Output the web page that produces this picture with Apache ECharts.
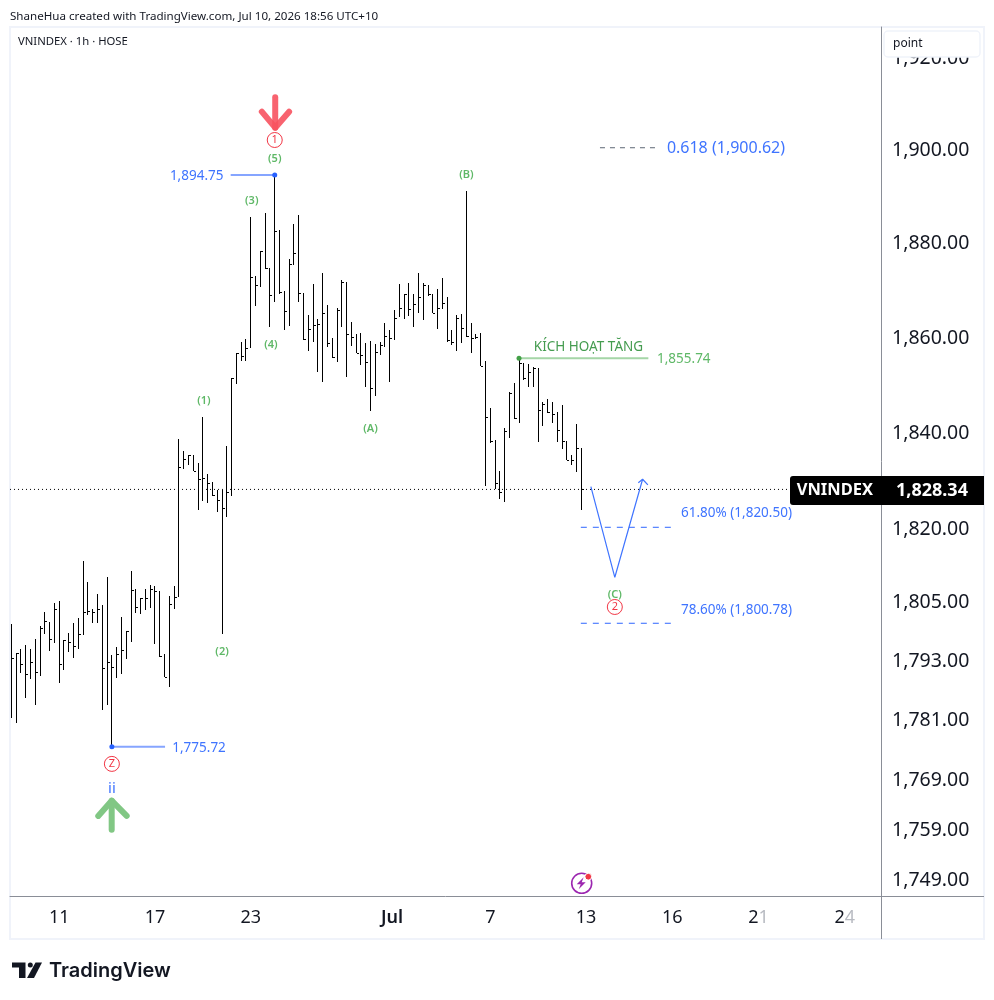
<!DOCTYPE html>
<html>
<head>
<meta charset="utf-8">
<title>VNINDEX 1h</title>
<style>html,body{margin:0;padding:0;background:#fff}#chart{width:994px;height:1000px}</style>
<script src="https://cdn.jsdelivr.net/npm/echarts@6/dist/echarts.min.js"></script>
</head>
<body>
<div id="chart"></div>
<script>
// Hourly HLC bars, one row per session hour: high, low, close
const highs = [1800.65,1794.68,1795.55,1796.37,1795.55,1797.59,1800.18,1803.09,1801.12,1804.87,1805.34,1797.39,1798.81,1800.85,1801.87,1813.51,1809.19,1803.64,1806.71,1804.46,1810.22,1794.33,1795.9,1802.01,1799.16,1811.45,1807.74,1805.89,1807.74,1808.57,1808.36,1807.39,1794.47,1806.3,1808.36,1838.85,1836.35,1835.52,1835.52,1833.85,1843.44,1831.56,1829.89,1828.22,1828.22,1837.39,1851.62,1856.89,1859.21,1859.84,1885.76,1873.18,1878.51,1886.61,1874.88,1894.75,1882.98,1869.98,1876.8,1884.26,1886.18,1869.55,1864.9,1871.44,1864.05,1873.83,1867.0,1860.05,1866.37,1872.32,1871.9,1863.42,1860.89,1861.1,1858.99,1859.35,1858.79,1859.21,1863.21,1861.74,1865.95,1871.44,1869.34,1871.69,1869.34,1873.76,1871.69,1871.27,1869.34,1870.41,1872.75,1868.69,1861.74,1864.9,1865.11,1891.3,1863.21,1860.89,1861.1,1855.2,1845.31,1838.64,1832.18,1841.15,1848.67,1850.56,1855.74,1854.78,1854.57,1853.94,1853.73,1846.56,1847.19,1846.56,1844.48,1845.94,1838.44,1835.52,1841.98,1836.98];
const lows = [1781.6,1780.59,1790.72,1785.64,1789.5,1784.21,1790.05,1798.55,1795.21,1796.72,1788.69,1791.27,1795.0,1793.78,1795.49,1798.47,1802.54,1800.91,1800.91,1783.21,1784.21,1775.72,1789.71,1790.46,1793.46,1797.04,1802.95,1802.75,1803.56,1803.97,1796.63,1793.98,1789.8,1787.87,1803.77,1806.09,1832.6,1833.43,1832.18,1824.08,1825.93,1825.52,1826.97,1823.67,1798.61,1822.64,1826.97,1850.35,1855.2,1855.2,1857.94,1866.79,1870.84,1874.67,1862.37,1867.64,1869.34,1861.74,1862.58,1875.51,1867.64,1859.63,1857.31,1859.21,1852.88,1850.77,1858.15,1855.84,1854.99,1862.37,1851.83,1858.36,1856.89,1854.36,1849.72,1844.69,1847.82,1856.47,1858.15,1850.77,1859.63,1864.48,1864.05,1864.69,1862.37,1865.32,1863.84,1868.91,1865.32,1861.95,1866.16,1859.21,1858.57,1857.31,1858.99,1860.26,1856.89,1859.84,1854.15,1829.06,1838.02,1828.43,1826.35,1825.73,1839.06,1843.02,1842.19,1851.2,1849.72,1849.72,1838.23,1841.56,1844.27,1842.19,1838.23,1836.77,1834.48,1833.43,1831.97,1824.08];
const closes = [1793.66,1794.68,1792.44,1790.4,1792.84,1790.81,1799.77,1801.2,1797.53,1803.64,1792.44,1797.33,1796.92,1796.1,1798.55,1803.03,1803.3,1803.03,1803.64,1791.62,1792.84,1791.82,1794.47,1795.29,1799.16,1807.54,1804.05,1805.89,1805.89,1807.74,1807.33,1794.07,1789.91,1804.66,1806.09,1833.02,1834.69,1835.52,1832.18,1830.52,1830.72,1829.68,1827.18,1826.14,1824.49,1827.81,1851.62,1856.89,1856.26,1857.94,1872.97,1871.27,1878.51,1874.88,1869.13,1882.77,1869.77,1865.74,1875.73,1878.08,1869.55,1859.84,1861.95,1862.79,1863.0,1865.32,1858.99,1856.05,1865.95,1871.9,1860.89,1860.26,1856.89,1856.47,1854.99,1849.51,1857.1,1858.57,1860.47,1860.05,1864.27,1866.37,1869.34,1866.16,1867.22,1868.69,1871.27,1869.34,1865.32,1866.37,1867.43,1859.63,1859.21,1864.27,1862.16,1860.47,1860.05,1860.26,1854.15,1843.44,1838.44,1829.68,1827.81,1840.52,1848.46,1843.23,1854.78,1851.62,1852.88,1853.73,1844.9,1846.15,1844.48,1844.06,1840.73,1838.44,1834.48,1834.48,1836.98,1828.34];

const lastPrice = 1828.34;
const priceTicks = [1920,1900,1880,1860,1840,1820,1805,1793,1781,1769,1759,1749];
const timeTickIndex = [10,30,50,79.5,100,120,138,156,174];
const timeTickText = ['11','17','23','{m|Jul}','7','13','16','2{f|1}','2{f|4}'];

const swingHigh = 1894.75, swingLow = 1775.72, triggerLevel = 1855.74;
const fibExt = 1900.62, fib618 = 1820.50, fib786 = 1800.78;

// Elliott wave counts beside the bars
const waveText = ['(1)','(2)','(3)','(4)','(5)','(A)','(B)','(C)'];
const waveIndex = [40.2,44,50.2,54.2,55,75,95,126];
const wavePrice = [1846.98,1795.15,1889.38,1858.8,1898.38,1841.14,1894.96,1806.9];

// Circled primary degree marks
const circleText = ['1','Z','2'];
const circleIndex = [55,21,126];
const circlePrice = [1902.29,1772.27,1804.11];

// Projected path for wave (C) and the rebound after it
const pathIndex = [121,126,131.8];
const pathPrice = [1828.91,1810.2,1830.45];
const headIndex = [130.9,131.8,132.9];
const headPrice = [1829.74,1830.45,1829.27];

const downArrowShaftIndex = [55.1,55.1], downArrowShaftPrice = [1911.53,1904.95];
const downArrowHeadIndex = [52.3,55.1,58.0], downArrowHeadPrice = [1908.41,1904.95,1908.41];
const upArrowShaftIndex = [20.96,20.96], upArrowShaftPrice = [1759.05,1764.88];
const upArrowHeadIndex = [18.16,20.96,24.09], upArrowHeadPrice = [1761.84,1764.88,1761.84];

const xMin = -0.27, xMax = 181.57;
const BLUE = '#3f74ff', GREEN = '#5fb867', RED = '#f23645';
const UI_FONT = '"Noto Sans", sans-serif';

const barRows = highs.map((h, i) => [i, h, lows[i], closes[i]]);

function polyline(name, xs, ys, lineStyle, z) {
  return {
    name, type: 'line', silent: true, symbol: 'none', animation: false, z: z || 4,
    data: xs.map((x, i) => [x, ys[i]]), lineStyle
  };
}
function textMark(name, x, y, text, font) {
  return {
    name, type: 'scatter', silent: true, symbolSize: 0, animation: false, z: 6,
    itemStyle: {opacity: 1},
    data: [[x, y]],
    label: Object.assign({show: true, position: 'inside', offset: [0, 1], formatter: text, fontFamily: UI_FONT, textBorderWidth: 0}, font)
  };
}
function dot(name, x, y, color) {
  return {name, type: 'scatter', silent: true, symbolSize: 5, animation: false, z: 7,
    data: [[x, y]], itemStyle: {color, opacity: 1}};
}

const series = [
  {
    name: 'VNINDEX', type: 'custom', animation: false, silent: true, z: 3,
    encode: {x: 0, y: [1, 2, 3]},
    data: barRows,
    renderItem(params, api) {
      const x = Math.floor(api.coord([api.value(0), api.value(1)])[0]);
      const top = Math.round(api.coord([api.value(0), api.value(1)])[1]);
      const bottom = Math.round(api.coord([api.value(0), api.value(2)])[1]);
      const close = Math.round(api.coord([api.value(0), api.value(3)])[1]);
      const style = {fill: '#000'};
      return {type: 'group', children: [
        {type: 'rect', shape: {x, y: top, width: 1, height: Math.max(bottom - top, 1)}, style},
        {type: 'rect', shape: {x: x + 1, y: close, width: 2, height: 1}, style}
      ]};
    }
  },
  polyline('last', [xMin, xMax], [lastPrice, lastPrice], {color: '#000', width: 1, type: [1, 3]}, 2),

  polyline('swing high', [45.8, 55], [swingHigh, swingHigh], {color: '#86a5ff', width: 2}),
  polyline('swing low', [21, 32.1], [swingLow, swingLow], {color: '#86a5ff', width: 2}),
  polyline('trigger', [106, 133], [triggerLevel, triggerLevel], {color: '#a5d6a7', width: 2}),
  polyline('fib ext', [122.9, 135.4], [fibExt, fibExt], {color: '#5d6675', width: 1, type: [5, 5]}),
  polyline('fib 61.8', [118.9, 138.1], [fib618, fib618], {color: '#2f66ff', width: 1, type: [6, 6]}),
  polyline('fib 78.6', [118.9, 138.1], [fib786, fib786], {color: '#2f66ff', width: 1, type: [6, 6]}),
  polyline('path', pathIndex, pathPrice, {color: BLUE, width: 1.2}),
  polyline('path head', headIndex, headPrice, {color: BLUE, width: 1.2}),
  polyline('sell arrow', downArrowShaftIndex, downArrowShaftPrice, {color: '#f7525f', width: 6, cap: 'round', opacity: .9}),
  polyline('sell arrow head', downArrowHeadIndex, downArrowHeadPrice, {color: '#f7525f', width: 6, cap: 'round', join: 'round', opacity: .9}),
  polyline('buy arrow', upArrowShaftIndex, upArrowShaftPrice, {color: '#81c784', width: 6, cap: 'round'}),
  polyline('buy arrow head', upArrowHeadIndex, upArrowHeadPrice, {color: '#81c784', width: 6, cap: 'round', join: 'round'}),

  dot('swing high dot', 55, swingHigh, '#2962ff'),
  dot('swing low dot', 21, swingLow, '#2962ff'),
  dot('trigger dot', 106, triggerLevel, '#43a047'),

  textMark('swing high label', 38.7, swingHigh, '1,894.75', {fontSize: 13.5, color: BLUE}),
  textMark('swing low label', 39.2, swingLow, '1,775.72', {fontSize: 13.5, color: BLUE}),
  textMark('trigger label', 140.4, triggerLevel, '1,855.74', {fontSize: 13.5, color: GREEN}),
  textMark('trigger text', 120.5, 1858.36, 'KÍCH HOẠT TĂNG', {fontSize: 13.5, color: '#459c50'}),
  textMark('fib ext label', 149.2, fibExt, '0.618 (1,900.62)', {fontSize: 16, color: BLUE}),
  textMark('fib 61.8 label', 151.4, 1823.67, '61.80% (1,820.50)', {fontSize: 13.5, color: BLUE}),
  textMark('fib 78.6 label', 151.4, 1803.71, '78.60% (1,800.78)', {fontSize: 13.5, color: BLUE}),
  textMark('minor degree', 21, 1767.44, 'ii', {fontSize: 15, color: BLUE}),

  {
    name: 'wave labels', type: 'scatter', silent: true, symbolSize: 0, animation: false, z: 6,
    itemStyle: {opacity: 1},
    data: waveText.map((t, i) => ({value: [waveIndex[i], wavePrice[i]], label: {formatter: t}})),
    label: {show: true, position: 'inside', offset: [0, 1], fontSize: 11, fontWeight: 600, color: GREEN, fontFamily: UI_FONT, textBorderWidth: 0}
  },
  {
    name: 'primary marks', type: 'scatter', silent: true, symbol: 'circle', symbolSize: 15, animation: false, z: 6,
    data: circleText.map((t, i) => ({value: [circleIndex[i], circlePrice[i]], label: {formatter: t}})),
    itemStyle: {color: '#fff', borderColor: RED, borderWidth: 1, opacity: 1},
    label: {show: true, position: 'inside', fontSize: 11, color: RED, fontFamily: UI_FONT, textBorderWidth: 0}
  },
  {
    name: 'symbol tag', type: 'scatter', silent: true, symbolSize: 0, animation: false, z: 20,
    itemStyle: {opacity: 1},
    data: [[xMax, lastPrice]],
    label: {
      show: true, position: 'left', distance: 0, offset: [0, 1], formatter: 'VNINDEX',
      padding: [5, 8, 5, 8], width: 75, height: 19, lineHeight: 19,
      color: '#fff', backgroundColor: '#000', borderRadius: [3, 0, 0, 3],
      fontSize: 16.5, fontWeight: 'bold', fontFamily: UI_FONT, textBorderWidth: 0
    }
  },
  {
    name: 'price tag', type: 'scatter', silent: true, symbolSize: 0, animation: false, z: 20,
    itemStyle: {opacity: 1},
    data: [[xMax, lastPrice]],
    label: {
      show: true, position: 'right', distance: 0, offset: [0, 1], formatter: '1,828.34',
      padding: [5, 12, 5, 15], width: 76, height: 19, lineHeight: 19,
      color: '#fff', backgroundColor: '#000',
      fontSize: 18, fontWeight: 'bold', fontFamily: UI_FONT, textBorderWidth: 0
    }
  }
];

const chart = echarts.init(document.getElementById('chart'), null, {renderer: 'canvas'});
chart.setOption({
  backgroundColor: '#fff',
  animation: false,
  grid: {left: 10, top: 27, width: 871, height: 869, containLabel: false},
  xAxis: {
    type: 'value', min: xMin, max: xMax, position: 'bottom',
    splitLine: {show: false}, axisTick: {show: false},
    axisLine: {show: true, lineStyle: {color: '#8a8e97', width: 1}},
    axisLabel: {
      show: true, customValues: timeTickIndex, margin: 13, fontSize: 18, color: '#131722',
      fontFamily: UI_FONT, hideOverlap: false,
      formatter: v => timeTickText[timeTickIndex.indexOf(v)] || '',
      rich: {
        m: {fontSize: 18, fontWeight: 600, color: '#131722', fontFamily: UI_FONT},
        f: {fontSize: 18, color: '#b8bbc2', fontFamily: UI_FONT}
      }
    }
  },
  yAxis: {
    type: 'log', logBase: 10, min: 1745.9, max: 1926.84, position: 'right',
    splitLine: {show: false}, axisTick: {show: false}, minorTick: {show: false},
    axisLine: {show: true, onZero: false, lineStyle: {color: '#8a8e97', width: 1}},
    axisLabel: {
      show: true, customValues: priceTicks, margin: 11, fontSize: 19.5, color: '#131722',
      fontFamily: UI_FONT, hideOverlap: false, padding: [0, 0, 6, 0],
      formatter: v => v.toLocaleString('en-US', {minimumFractionDigits: 2, maximumFractionDigits: 2})
    }
  },
  graphic: [
    {type: 'rect', silent: true, z: -1, shape: {x: 10, y: 27, width: 974, height: 912}, style: {fill: 'none', stroke: '#f0f3fa', lineWidth: 2}},
    {type: 'line', silent: true, z: 1, shape: {x1: 881.5, y1: 896, x2: 881.5, y2: 939}, style: {stroke: '#8a8e97', lineWidth: 1}},
    {type: 'line', silent: true, z: 1, shape: {x1: 881, y1: 896.5, x2: 984, y2: 896.5}, style: {stroke: '#8a8e97', lineWidth: 1}},
    {type: 'text', silent: true, z: 50, left: 10, top: 11, style: {text: 'ShaneHua created with TradingView.com, Jul 10, 2026 18:56 UTC+10', font: '11.6px ' + UI_FONT, fill: '#131722'}},
    {type: 'text', silent: true, z: 50, left: 18, top: 36, style: {text: 'VNINDEX · 1h · HOSE', font: '11.3px ' + UI_FONT, fill: '#131722'}},
    {type: 'rect', silent: true, z: 60, shape: {x: 884, y: 31, width: 96, height: 26, r: 4}, style: {fill: '#fff', stroke: '#f0f3fa', lineWidth: 1.5}},
    {type: 'text', silent: true, z: 61, left: 893, top: 38, style: {text: 'point', font: '12px ' + UI_FONT, fill: '#131722'}},
    // Event badge resting on the time axis
    {type: 'group', silent: true, z: 40, x: 581.7, y: 883.3, children: [
      {type: 'circle', shape: {r: 10}, style: {fill: '#fff', stroke: '#9c27b0', lineWidth: 1.6}},
      {type: 'polygon', shape: {points: [[2, -6], [-5, 1], [-1, 1], [-3, 6], [4, -1], [0, -1]]}, style: {fill: '#9c27b0'}},
      {type: 'circle', shape: {cx: 6.6, cy: -6.6, r: 3.4}, style: {fill: '#f23645', stroke: '#fff', lineWidth: 1}}
    ]},
    // Brand mark in the footer
    {type: 'group', silent: true, z: 40, children: [
      {type: 'polygon', shape: {points: [[12, 962.5], [25.5, 962.5], [25.5, 978], [19, 978], [19, 967.5], [12, 967.5]]}, style: {fill: '#131722'}},
      {type: 'circle', shape: {cx: 30.3, cy: 965, r: 2.5}, style: {fill: '#131722'}},
      {type: 'polygon', shape: {points: [[35.5, 962.5], [42, 962.5], [34, 978], [27, 978]]}, style: {fill: '#131722'}},
      {type: 'text', left: 49, top: 961, style: {text: 'TradingView', font: '600 20px Inter, ' + UI_FONT, fill: '#131722'}}
    ]}
  ],
  series
});
</script>
</body>
</html>
